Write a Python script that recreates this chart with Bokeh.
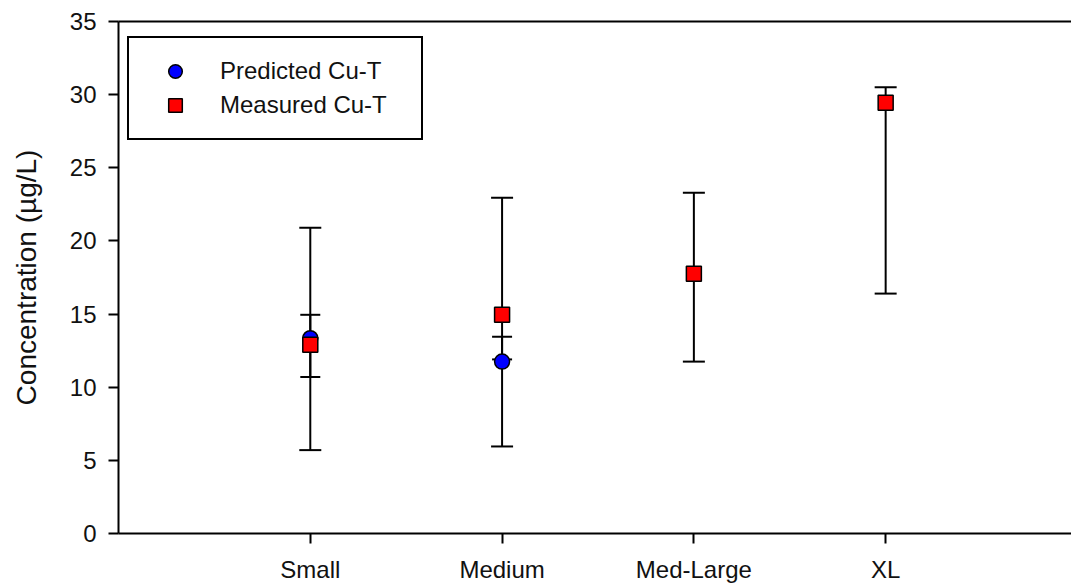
from bokeh.plotting import figure
from bokeh.models import (ColumnDataSource, Range1d, FixedTicker, LinearAxis, Whisker,
                          TeeHead, Legend, LegendItem)
from bokeh.embed import file_html
from bokeh.resources import INLINE

# ---- data ----
categories = ["Small", "Medium", "Med-Large", "XL"]

pred_categories = ["Small", "Medium"]
pred_values = [13.35, 11.75]
pred_upper = [14.95, 13.45]
pred_lower = [10.7, 11.9]

meas_categories = ["Small", "Medium", "Med-Large", "XL"]
meas_values = [12.9, 14.95, 17.75, 29.45]
meas_upper = [20.9, 22.95, 23.3, 30.5]
meas_lower = [5.7, 5.95, 11.75, 16.4]

y_ticks = [0, 5, 10, 15, 20, 25, 30, 35]

pos = {c: i + 1 for i, c in enumerate(categories)}

pred_src = ColumnDataSource(dict(x=[pos[c] for c in pred_categories], y=pred_values,
                                 upper=pred_upper, lower=pred_lower))
meas_src = ColumnDataSource(dict(x=[pos[c] for c in meas_categories], y=meas_values,
                                 upper=meas_upper, lower=meas_lower))

FONT = "Liberation Sans"

p = figure(width=1071, height=585, output_backend="svg", toolbar_location=None,
           x_range=Range1d(0, 4.969), y_range=Range1d(0, 35),
           min_border_left=118, min_border_right=0, min_border_top=21, min_border_bottom=52)
p.outline_line_color = None
p.xgrid.grid_line_color = None
p.ygrid.grid_line_color = None
p.background_fill_color = "white"
p.border_fill_color = "white"

# axes
for ax in (p.xaxis[0], p.yaxis[0]):
    ax.axis_line_width = 2
    ax.axis_line_color = "black"
    ax.major_tick_line_width = 2
    ax.major_tick_line_color = "black"
    ax.major_tick_out = 10
    ax.major_tick_in = 0
    ax.minor_tick_line_color = None
    ax.major_label_text_font = FONT
    ax.major_label_text_font_size = "24px"
    ax.major_label_text_color = "#111111"
    ax.major_label_standoff = 12

p.xaxis[0].ticker = FixedTicker(ticks=[pos[c] for c in categories])
p.xaxis[0].major_label_overrides = {pos[c]: c for c in categories}
p.yaxis[0].ticker = FixedTicker(ticks=y_ticks)
p.yaxis[0].axis_label = "Concentration (µg/L)"
p.yaxis[0].axis_label_text_font = FONT
p.yaxis[0].axis_label_text_font_size = "28px"
p.yaxis[0].axis_label_text_font_style = "normal"
p.yaxis[0].axis_label_text_color = "#111111"
p.yaxis[0].axis_label_standoff = 25

top_axis = LinearAxis(ticker=FixedTicker(ticks=[]), axis_line_width=2, axis_line_color="black",
                      major_tick_line_color=None, minor_tick_line_color=None,
                      major_label_text_font_size="0px")
p.add_layout(top_axis, "above")

# error bars
p.add_layout(Whisker(source=meas_src, base="x", upper="upper", lower="lower",
                     line_width=2, line_color="black",
                     upper_head=TeeHead(size=22, line_width=2, line_color="black"),
                     lower_head=TeeHead(size=22, line_width=2, line_color="black")))
p.add_layout(Whisker(source=pred_src, base="x", upper="upper", lower="lower",
                     line_width=2, line_color="black",
                     upper_head=TeeHead(size=20, line_width=2, line_color="black"),
                     lower_head=TeeHead(size=20, line_width=2, line_color="black")))

r_pred = p.scatter("x", "y", source=pred_src, marker="circle", size=15,
                   fill_color="#0000FF", line_color="black", line_width=1.5)
r_meas = p.scatter("x", "y", source=meas_src, marker="square", size=15,
                   fill_color="#FF0000", line_color="black", line_width=1.5)

legend = Legend(items=[LegendItem(label="Predicted Cu-T", renderers=[r_pred]),
                       LegendItem(label="Measured Cu-T", renderers=[r_meas])],
                location=(9, 393), orientation="vertical",
                border_line_color="black", border_line_width=2, border_line_alpha=1,
                background_fill_color="white", background_fill_alpha=1,
                label_text_font=FONT, label_text_font_size="24px", label_text_color="#111111",
                padding=16, margin=0, spacing=0,
                glyph_width=60, glyph_height=34, label_height=34, label_width=185,
                label_standoff=15)
p.add_layout(legend, "center")

open("out.html", "w").write(file_html(p, INLINE))
